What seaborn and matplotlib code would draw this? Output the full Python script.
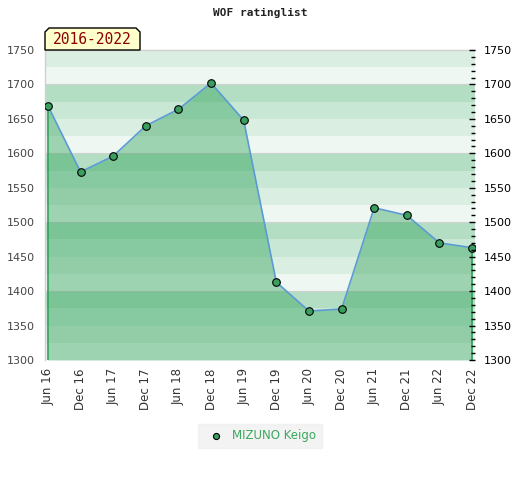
import numpy as np
import pandas as pd
import matplotlib
matplotlib.use('Agg')
import matplotlib.pyplot as plt
from matplotlib.patches import Polygon
from matplotlib.ticker import MultipleLocator
import seaborn as sns

# data
periods = ['Jun 16', 'Dec 16', 'Jun 17', 'Dec 17', 'Jun 18', 'Dec 18', 'Jun 19',
           'Dec 19', 'Jun 20', 'Dec 20', 'Jun 21', 'Dec 21', 'Jun 22', 'Dec 22']
rating = [1669, 1573, 1596, 1640, 1664, 1702, 1648,
          1413, 1371, 1374, 1521, 1510, 1470, 1463]
player = 'MIZUNO Keigo'
range_label = '2016-2022'

df = pd.DataFrame({'x': np.arange(len(periods)), 'Rating': rating})

sns.set_style('white')
plt.rcParams['font.family'] = ['DejaVu Sans']

W, H = 520, 480
fig = plt.figure(figsize=(W / 100, H / 100), dpi=100)
ax = fig.add_axes([45 / W, 1 - 360 / H, 430 / W, 310 / H])

ymin, ymax = 1300, 1750
# striped background, 4 bands per 100 points
band_cols = ['#eef7f1', '#dbeee2', '#c8e7d4', '#b3dec3']
for lo in range(ymin, ymax, 25):
    ax.axhspan(lo, lo + 25, color=band_cols[(lo // 25) % 4], lw=0, zorder=0)
for v in range(ymin, ymax + 1, 100):
    ax.axhline(v, color='#d0d0d0', lw=0.8, zorder=0.5)

# area under the rating line
ax.fill_between(df['x'], df['Rating'], ymin, color='#279d52', alpha=0.4, lw=0, zorder=1)
ax.plot([0, 0], [ymin, rating[0]], color='#2ea05a', lw=1.2, zorder=2)
ax.plot([len(periods) - 1] * 2, [ymin, rating[-1]], color='#2ea05a', lw=1.2, zorder=2)

sns.lineplot(data=df, x='x', y='Rating', ax=ax, color='#5b9bd5', lw=1.2, zorder=3)
sns.scatterplot(data=df, x='x', y='Rating', ax=ax, color='#3a9e5e', edgecolor='black',
                linewidth=0.8, s=30, zorder=4, label=player, legend=False)

# right-hand axis with minor ticks
ax2 = ax.twinx()
ax2.set_ylim(ymin, ymax)
ax2.yaxis.set_major_locator(MultipleLocator(50))
ax2.yaxis.set_minor_locator(MultipleLocator(10))
ax2.tick_params(axis='y', which='major', direction='in', length=4, width=1,
                labelsize=8, colors='black', pad=6)
ax2.tick_params(axis='y', which='minor', direction='in', length=3, width=1, colors='black')
for s in ax2.spines.values():
    s.set_visible(False)

ax.set_xlim(-0.09, len(periods) - 1 + 0.09)
ax.set_ylim(ymin, ymax)
ax.set_xticks(df['x'])
ax.set_xticklabels(periods, rotation=90, fontsize=8.5, color='#333333')
ax.set_yticks(range(ymin, ymax + 1, 50))
ax.tick_params(axis='y', labelsize=8, colors='#444444', length=0, pad=7)
ax.tick_params(axis='x', length=0, pad=6, labelbottom=True)
ax.set_xlabel('')
ax.set_ylabel('')
for side in ['top', 'left']:
    ax.spines[side].set_color('#d0d0d0')
    ax.spines[side].set_linewidth(1)
for side in ['bottom', 'right']:
    ax.spines[side].set_visible(False)

fig.text(260 / W, 1 - 13 / H, 'WOF ratinglist', ha='center', va='center',
         fontsize=8, fontweight='bold', family='DejaVu Sans Mono', color='#222222')

# period label tab
px = [45, 45, 49, 136, 140, 140]
py = [50, 32, 28, 28, 32, 50]
tab = Polygon([(x / W, 1 - y / H) for x, y in zip(px, py)], closed=True,
              transform=fig.transFigure, facecolor='#ffffcc', edgecolor='black', lw=1,
              zorder=10)
fig.patches.append(tab)
fig.text(92.5 / W, 1 - 40 / H, range_label, ha='center', va='center', fontsize=10.5,
         family='DejaVu Sans Mono', color='#8b0000', zorder=11)

handles, labels = ax.get_legend_handles_labels()
leg = fig.legend(handles, labels, loc='center', bbox_to_anchor=(260 / W, 1 - 436 / H),
                 frameon=True, fontsize=8.5, markerscale=0.8, handletextpad=0.4,
                 borderpad=0.5, fancybox=False)
leg.get_frame().set_facecolor('#f0f0f0')
leg.get_frame().set_edgecolor('#f0f0f0')
for t in leg.get_texts():
    t.set_color('#3aa85e')

fig.savefig('out.png', dpi=100)
